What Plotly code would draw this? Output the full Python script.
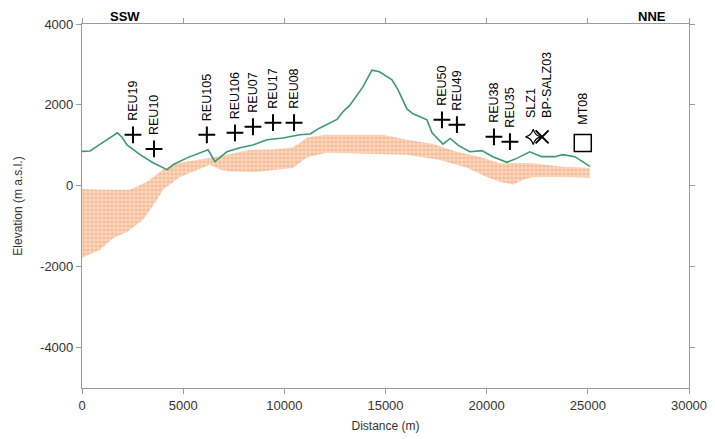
import plotly.graph_objects as go

# ---- Data ----
topo_dist = [0, 400, 1000, 1750, 1980, 2220, 2870, 3510, 4200, 4500, 5190, 5830, 6230, 6570,
             7160, 7800, 8450, 9140, 9930, 10770, 11270, 11760, 12100, 12600, 12900, 13250,
             13890, 14330, 14700, 14970, 15320, 15620, 16060, 16360, 16850, 17050, 17300, 17840,
             18200, 18600, 19170, 19770, 20300, 21000, 21540, 22130, 22720, 23370, 23760,
             24360, 25100]
topo_elev = [850, 860, 1060, 1310, 1200, 1010, 770, 570, 400, 520, 690, 820, 890, 600,
             840, 940, 1010, 1140, 1180, 1260, 1280, 1430, 1510, 1640, 1830, 2000,
             2450, 2860, 2820, 2740, 2620, 2370, 1900, 1780, 1680, 1630, 1310, 1030,
             1170, 1000, 840, 870, 720, 580, 690, 840, 720, 720, 770,
             720, 480]

band_top_dist = [0, 1000, 2370, 3210, 4000, 4840, 5680, 6470, 7460, 8300, 9500, 10420, 10770,
                 11110, 11420, 12100, 14870, 16060, 17350, 18530, 19670, 20650, 22130, 23760, 25100]
band_top_elev = [-80, -100, -100, 100, 400, 570, 640, 700, 800, 890, 900, 950, 1060,
                 1185, 1220, 1260, 1260, 1140, 1030, 840, 710, 560, 565, 470, 445]

band_bot_dist = [0, 890, 1530, 2220, 3020, 3700, 4000, 4840, 5680, 6320, 6820, 7310, 8450, 8800,
                 10420, 11110, 12100, 12750, 16060, 17700, 19020, 20000, 20650, 21300, 21800,
                 22300, 23760, 25100]
band_bot_elev = [-1780, -1580, -1300, -1140, -840, -350, -100, 220, 395, 520, 400, 350, 340, 350,
                 440, 700, 815, 815, 765, 640, 445, 220, 100, 25, 150,
                 220, 220, 200]

station_names = ["REU19", "REU10", "REU105", "REU106", "REU07", "REU17", "REU08",
                 "REU50", "REU49", "REU38", "REU35", "SLZ1", "BP-SALZ03", "MT08"]
station_dist = [2520, 3560, 6170, 7560, 8450, 9440, 10480,
                17790, 18530, 20360, 21150, 22300, 22740, 24750]
station_elev = [1260, 910, 1260, 1310, 1460, 1560, 1560,
                1630, 1510, 1210, 1090, 1210, 1210, 1060]
station_type = ["REU", "REU", "REU", "REU", "REU", "REU", "REU",
                "REU", "REU", "REU", "REU", "SLZ", "BP", "MT"]

y_tick_vals = [-4000, -2000, 0, 2000, 4000]
y_tick_text = ["-4000", "-2000", "0", "2000", "4000"]

# ---- Styles ----
FONT = "Arial, Liberation Sans, sans-serif"
type_style = {
    "REU": dict(symbol="cross-thin-open", size=12, line=dict(width=2, color="black"), half=8, dx=0),
    "SLZ": dict(symbol="star-diamond-open", size=11, line=dict(width=1.2, color="black"), half=13, dx=-2),
    "BP": dict(symbol="x-thin-open", size=13, line=dict(width=2, color="black"), half=13, dx=5),
    "MT": dict(symbol="square-open", size=17, line=dict(width=1.5, color="black"), half=12, dx=0),
}

fig = go.Figure()

# Orange band (closed polygon)
fig.add_trace(go.Scatter(
    x=band_top_dist + band_bot_dist[::-1],
    y=band_top_elev + band_bot_elev[::-1],
    mode="lines", fill="toself",
    line=dict(width=0, color="rgba(0,0,0,0)"),
    fillcolor="#f8c8a6",
    fillpattern=dict(shape=".", bgcolor="#fad6bd", fgcolor="#f0a070", size=4, solidity=0.45),
    hoverinfo="skip", showlegend=False,
))

# Topography line
fig.add_trace(go.Scatter(
    x=topo_dist, y=topo_elev, mode="lines",
    line=dict(color="#3b9a70", width=1.6),
    showlegend=False,
))

# Stations
for t, st in type_style.items():
    idx = [i for i, s in enumerate(station_type) if s == t]
    fig.add_trace(go.Scatter(
        x=[station_dist[i] for i in idx], y=[station_elev[i] for i in idx],
        mode="markers",
        marker=dict(symbol=st["symbol"], size=st["size"], color="black", line=st["line"]),
        showlegend=False,
    ))

annotations = []
for name, d, e, t in zip(station_names, station_dist, station_elev, station_type):
    annotations.append(dict(
        x=d, y=e, xref="x", yref="y", text=name, showarrow=False,
        textangle=-90, xanchor="center", yanchor="bottom",
        yshift=type_style[t]["half"] + 4, xshift=type_style[t]["dx"],
        font=dict(family=FONT, size=12.5, color="black"),
    ))

annotations.append(dict(x=0.071, y=1, xref="paper", yref="paper", text="<b>SSW</b>",
                        showarrow=False, xanchor="center", yanchor="bottom", yshift=-1,
                        borderpad=0, font=dict(family=FONT, size=13, color="black")))
annotations.append(dict(x=0.939, y=1, xref="paper", yref="paper", text="<b>NNE</b>",
                        showarrow=False, xanchor="center", yanchor="bottom", yshift=-1,
                        borderpad=0, font=dict(family=FONT, size=13, color="black")))

axis_common = dict(showline=True, mirror="ticks", linecolor="#9a9a9a", linewidth=1.2,
                   ticks="outside", ticklen=5, tickcolor="#9a9a9a", tickwidth=1,
                   showgrid=False, zeroline=False, automargin=False,
                   tickfont=dict(family=FONT, size=13, color="#333333"))

fig.update_layout(
    width=707, height=431,
    margin=dict(l=74, r=26, t=16, b=51),
    paper_bgcolor="white", plot_bgcolor="white",
    annotations=annotations,
    xaxis=dict(range=[0, 30000], dtick=5000, tick0=0, tickformat="d",
               title=dict(text="Distance (m)", font=dict(family=FONT, size=12, color="#333333"), standoff=9),
               **axis_common),
    yaxis=dict(range=[-5000, 4000], tickvals=y_tick_vals, ticktext=y_tick_text,
               title=dict(text="Elevation (m a.s.l.)", font=dict(family=FONT, size=12, color="#333333"), standoff=14),
               **axis_common),
)

fig.write_html("out.html")
